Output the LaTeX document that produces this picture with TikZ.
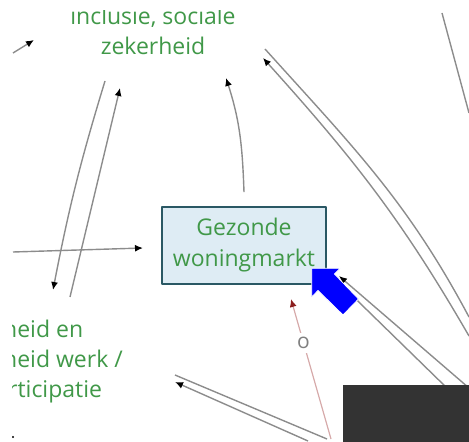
\documentclass[tikz,border=0pt]{standalone}
\usepackage{fontspec}
\setmainfont{Open Sans}
\usetikzlibrary{arrows.meta}
\definecolor{groen}{RGB}{64,152,72}
\definecolor{lijn}{RGB}{140,140,140}
\definecolor{vak}{RGB}{222,236,244}
\definecolor{rand}{RGB}{42,88,100}
\definecolor{rood}{RGB}{140,30,30}
\definecolor{roze}{RGB}{214,170,170}
\definecolor{donker}{RGB}{51,51,51}
\begin{document}
\begin{tikzpicture}[line join=round,>={Latex[length=8pt,width=7pt,color=black]},x=1pt,y=1pt]
		\tikzset{every node/.style={font=\fontsize{23}{30}\selectfont,text=groen,inner sep=0pt},
			pijl/.style={draw=lijn,line width=1.4pt}}
		\useasboundingbox (0,0) rectangle (469,442);
		\clip (12,0) rectangle (469,431);
		\node[align=center,anchor=base] (zeker) at (153,387) {inclusie, sociale\\zekerheid};
		\node[draw=rand,line width=1.8pt,fill=vak,minimum width=164,minimum height=77,align=center,
			font=\fontsize{23}{31}\selectfont] (markt) at (244,196.5) {Gezonde\\woningmarkt};
		\node[align=left,anchor=base west] (werk) at (3,44) {heid en\\heid werk /\\\hspace*{5pt}rticipatie};
		%losse uiteinden
		\coordinate (a1) at (13,389);  \coordinate (a2) at (34,402);
		\coordinate (z1) at (105,361); \coordinate (w1) at (53,152);
		\coordinate (w2) at (70,145);  \coordinate (z2) at (120,354);
		\coordinate (h1) at (13,190);  \coordinate (h2) at (143,194);
		\coordinate (z3) at (226,364);
		\coordinate (z4) at (265,393); \coordinate (r1) at (469,125);
		\coordinate (r2) at (469,106); \coordinate (z5) at (263,384);
		\coordinate (r3) at (442,429); \coordinate (r4) at (469,329);
		\coordinate (o1) at (469,54);  \coordinate (m1) at (339,166);
		\coordinate (m2) at (326,172); \coordinate (o2) at (449,52);
		\coordinate (b1) at (175,67);  \coordinate (b2) at (327,3);
		\coordinate (b3) at (308,1);   \coordinate (b4) at (175,60);
		\coordinate (b5) at (331,3);   \coordinate (m3) at (291,143);
		\foreach \a/\b in {a1/a2,w2/z2,h1/h2,o1/m1,b3/b4}
		\draw[pijl,->] (\a)--(\b);
		\foreach \a/\b in {r3/r4,m2/o2,b1/b2}
		\draw[pijl] (\a)--(\b);
		\draw[pijl,->] (z1) to[bend right=3] (w1);
		\draw[pijl,->] ([yshift=14pt]markt.north) to[out=92,in=-72] (z3);
		\draw[pijl] (z4) to[out=-48,in=118] (r1);
		\draw[pijl,->] (r2) to[out=120,in=-48] (z5);
		\draw[draw=roze,line width=1.2pt,-{Latex[length=8pt,width=7pt,color=rood]}] (b5)--(m3)
			node[pos=0.686,fill=white,inner sep=4pt,text=gray,font=\fontsize{21}{21}\selectfont] {o};
		\fill (13,5) circle (1.2);
		\fill[donker] (343,0) rectangle (469,57);
		\fill[blue,draw=white,line width=0.8pt] (311.7,173.7)--(340,173.7)--(334.5,168)--(358.5,143)
			--(343,127)--(318,151.5)--(311.7,145)--cycle;
\end{tikzpicture}
\end{document}
